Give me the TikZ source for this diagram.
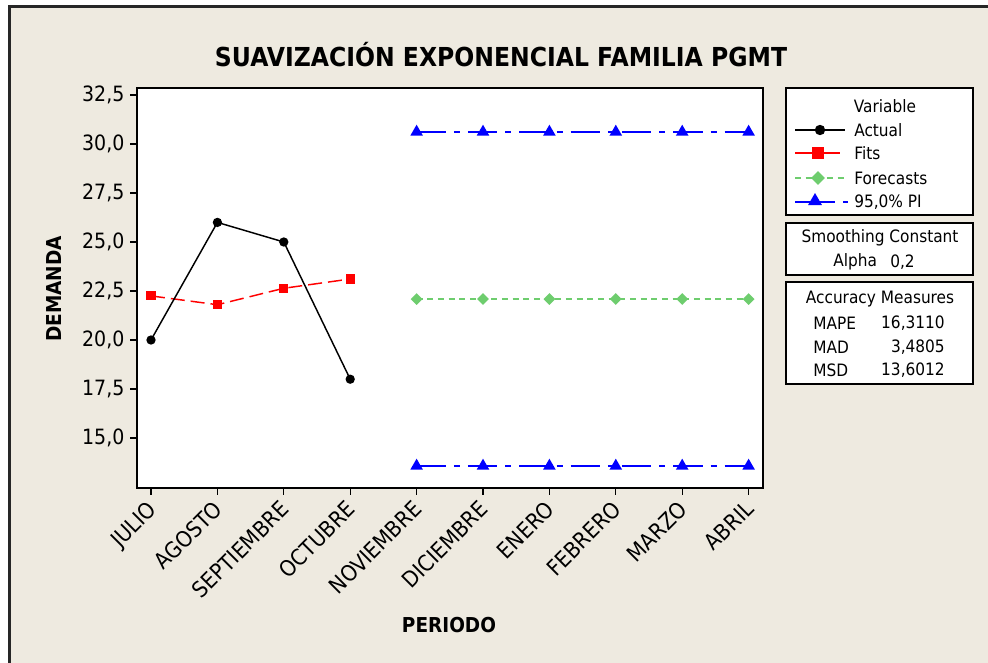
\documentclass[tikz,border=0pt]{standalone}
\usepackage{fontspec}
\setmainfont{DejaVu Sans}[FakeStretch=0.9]
\usetikzlibrary{shapes.geometric}
\definecolor{bgbeige}{RGB}{238,234,224}
\definecolor{fitred}{RGB}{255,0,0}
\definecolor{fcgreen}{RGB}{110,205,110}
\definecolor{piblue}{RGB}{0,0,255}
\begin{document}
\begin{tikzpicture}[x=0.75pt,y=-0.75pt,
  declare function={yv(\v)=95+(32.5-\v)*19.6; xi(\i)=151+66.4*(\i-1);},
  ticklab/.style={font=\fontsize{15.8}{18}\selectfont, inner sep=1pt},
  xticklab/.style={font=\fontsize{16.6}{19}\selectfont, inner sep=0.5pt},
  leglab/.style={font=\fontsize{12.8}{15}\selectfont, inner sep=0pt},
  axlab/.style={font=\fontsize{15.4}{18}\selectfont\bfseries, inner sep=0pt},
  titlelab/.style={font=\fontsize{19.6}{22}\selectfont\bfseries, inner sep=0pt},
  actline/.style={black, line width=1.1pt},
  fitline/.style={fitred, line width=1.1pt, dash pattern=on 10.5pt off 4.5pt},
  fcline/.style={fcgreen, line width=1pt, dash pattern=on 4.5pt off 3.5pt},
  piline/.style={piblue, line width=1pt, dash pattern=on 22pt off 6pt on 4.5pt off 6pt},
  actmark/.style={circle, fill=black, inner sep=0pt, minimum size=7pt},
  fitmark/.style={rectangle, fill=fitred, inner sep=0pt, minimum size=6.8pt},
  fcmark/.style={diamond, fill=fcgreen, inner sep=0pt, minimum size=9pt},
  pimark/.style={regular polygon, regular polygon sides=3, fill=piblue, inner sep=0pt, minimum size=11pt},
  legbox/.style={draw=black, fill=white, line width=1.1pt}
]
\useasboundingbox (0,0) rectangle (988,663);
\fill[white] (0,0) rectangle (988,663);
\fill[bgbeige] (9,6) rectangle (988,663);
\draw[line width=2.2pt, black!85] (9.5,663) -- (9.5,6.5) -- (988,6.5);

% title
\node[titlelab] (title) at (501,55) {SUAVIZACIÓN EXPONENCIAL FAMILIA PGMT};

% plot frame
\draw[fill=white, line width=1.5pt] (137,88) rectangle (763,488);

% y ticks
\foreach \v/\t in {15/15{,}0, 17.5/17{,}5, 20/20{,}0, 22.5/22{,}5, 25/25{,}0, 27.5/27{,}5, 30/30{,}0, 32.5/32{,}5}{
  \draw[line width=1pt] (130,{yv(\v)}) -- (137,{yv(\v)});
  \node[ticklab, anchor=east] (yl\v) at (126,{yv(\v)}) {\t};
}
% x ticks
\foreach \i/\m in {1/JULIO,2/AGOSTO,3/SEPTIEMBRE,4/OCTUBRE,5/NOVIEMBRE,6/DICIEMBRE,7/ENERO,8/FEBRERO,9/MARZO,10/ABRIL}{
  \draw[line width=1pt] ({xi(\i)},488) -- ({xi(\i)},495);
  \node[xticklab, rotate=45, anchor=north east] (xl\i) at ({xi(\i)-5},498) {\m};
}

% axis labels
\node[axlab, rotate=90] (ylab) at (54,289) {DEMANDA};
\node[axlab] (xlab) at (449,625) {PERIODO};

% data coordinates
\coordinate (a1) at ({xi(1)},{yv(20)});
\coordinate (a2) at ({xi(2)},{yv(26)});
\coordinate (a3) at ({xi(3)},{yv(25)});
\coordinate (a4) at ({xi(4)},{yv(18)});
\coordinate (f1) at ({xi(1)},{yv(22.25)});
\coordinate (f2) at ({xi(2)},{yv(21.8)});
\coordinate (f3) at ({xi(3)},{yv(22.64)});
\coordinate (f4) at ({xi(4)},{yv(23.112)});
\foreach \i in {5,...,10}{
  \coordinate (c\i) at ({xi(\i)},{yv(22.09)});
  \coordinate (u\i) at ({xi(\i)},{yv(30.61)});
  \coordinate (l\i) at ({xi(\i)},{yv(13.57)});
}

% lines
\draw[fitline] (f1) -- (f2) -- (f3) -- (f4);
\draw[actline] (a1) -- (a2) -- (a3) -- (a4);
\draw[fcline] (c5) -- (c6) -- (c7) -- (c8) -- (c9) -- (c10);
\draw[piline] (u5) -- (u6) -- (u7) -- (u8) -- (u9) -- (u10);
\draw[piline] (l5) -- (l6) -- (l7) -- (l8) -- (l9) -- (l10);

% markers
\foreach \i in {1,...,4}{
  \node[fitmark] (fm\i) at (f\i) {};
  \node[actmark] (am\i) at (a\i) {};
}
\foreach \i in {5,...,10}{
  \node[fcmark] (cm\i) at (c\i) {};
  \node[pimark] (um\i) at (u\i) {};
  \node[pimark] (lm\i) at (l\i) {};
}

% legend box 1
\draw[legbox] (786,88) rectangle (973,215);
\node[leglab] (lvar) at (885,106) {Variable};
\coordinate (la0) at (795,130); \coordinate (la1) at (845,130);
\coordinate (lf0) at (795,153); \coordinate (lf1) at (840,153);
\coordinate (lc0) at (795,178); \coordinate (lc1) at (846,178);
\coordinate (lp0) at (795,202); \coordinate (lp1) at (849,202);
\draw[actline] (la0) -- (la1);
\draw[fitred, line width=1pt] (lf0) -- (lf1);
\draw[fcline] (lc0) -- (lc1);
\draw[piblue, line width=1pt, dash pattern=on 30pt off 6pt on 4pt off 20pt] (lp0) -- (lp1);
\node[actmark, minimum size=7.8pt] (lam) at (820,130) {};
\node[fitmark, minimum size=8.5pt] (lfm) at (818,153) {};
\node[fcmark, minimum size=10.5pt] (lcm) at (818,178) {};
\node[pimark, minimum size=12pt] (lpm) at (815,201) {};
\node[leglab, anchor=west] (tact) at (854,130) {Actual};
\node[leglab, anchor=west] (tfit) at (854,153) {Fits};
\node[leglab, anchor=west] (tfc) at (854,178) {Forecasts};
\node[leglab, anchor=west] (tpi) at (854,202) {95,0\% PI};

% legend box 2
\draw[legbox] (786,223) rectangle (973,275);
\node[leglab] (tsc) at (880,238) {Smoothing Constant};
\node[leglab, anchor=west] (talpha) at (833,262) {Alpha};
\node[leglab, anchor=west] (talv) at (890,262) {0,2};

% legend box 3
\draw[legbox] (786,282) rectangle (973,384);
\node[leglab] (tam) at (880,299) {Accuracy Measures};
\node[leglab, anchor=west] (tmape) at (813,323) {MAPE};
\node[leglab, anchor=west] (tmad) at (813,347) {MAD};
\node[leglab, anchor=west] (tmsd) at (813,370) {MSD};
\node[leglab, anchor=east] (vmape) at (945,323) {16,3110};
\node[leglab, anchor=east] (vmad) at (945,347) {3,4805};
\node[leglab, anchor=east] (vmsd) at (945,370) {13,6012};
\end{tikzpicture}
\end{document}
